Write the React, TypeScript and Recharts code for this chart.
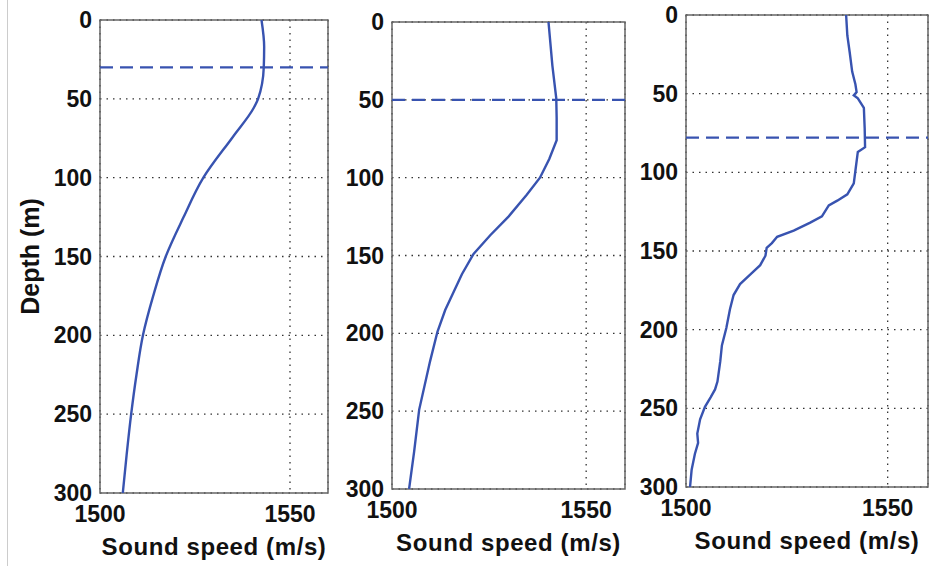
import { LineChart, Line, XAxis, YAxis, CartesianGrid, ReferenceLine, ReferenceArea } from 'recharts';

// sound speed profiles, depth (m) vs speed (m/s)
const depth1 = [0, 17, 30, 50, 56, 74, 100, 125, 150, 175, 200, 225, 250, 276, 300];
const speed1 = [1542.5, 1543.2, 1543.1, 1541.6, 1540.4, 1535, 1527.2, 1522, 1517.3, 1514, 1511.3, 1509.6, 1508.2, 1507, 1506];

const depth2 = [0, 28, 49, 62, 76, 88, 100, 111, 125, 137, 149, 162, 185, 199, 218, 249, 276, 300];
const speed2 = [1540.3, 1541.3, 1542.3, 1542.4, 1542.4, 1540.5, 1538.1, 1534.7, 1530, 1525.3, 1521, 1518, 1513.7, 1511.7, 1509.8, 1507, 1505.7, 1504.4];

const depth3 = [0, 13, 24, 36, 44, 49, 51, 53, 59, 72, 84, 87, 99, 107, 114, 118, 121, 128, 132, 137, 141, 145, 148, 153, 159, 164, 171, 178, 187, 199, 210, 220, 233, 238, 243, 249, 257, 266, 272, 279, 289, 300];
const speed3 = [1539.7, 1540, 1540.6, 1541.2, 1542, 1542.3, 1541.6, 1542.6, 1544.1, 1544.3, 1544.4, 1542.6, 1542, 1541.6, 1540, 1537.5, 1535.4, 1533.7, 1530.8, 1526.7, 1522.6, 1521.3, 1520, 1519.7, 1518.4, 1516.3, 1513.4, 1511.8, 1510.9, 1510, 1508.9, 1508.5, 1507.8, 1507.2, 1506.1, 1504.7, 1503.5, 1502.8, 1503, 1502.2, 1501.4, 1501];

const mixedLayer = [30, 50, 78];

const depthTicks = [0, 50, 100, 150, 200, 250, 300];
const speedTicks = [1500, 1550];

const blue = '#3853b0';
const font = { fontFamily: 'Liberation Sans, Arial, sans-serif', fontWeight: 700, fill: '#111' };

const panels = [
  { depth: depth1, speed: speed1, mld: mixedLayer[0], curve: 'monotone', left: 100, top: 20, w: 228, h: 473, yw: 100, showY: true },
  { depth: depth2, speed: speed2, mld: mixedLayer[1], curve: 'linear', left: 392, top: 22, w: 233, h: 467, yw: 80, showY: false },
  { depth: depth3, speed: speed3, mld: mixedLayer[2], curve: 'linear', left: 686, top: 15, w: 242, h: 472, yw: 80, showY: false },
];

const mt = 15;
const xh = 72;

function Panel({ p }: { p: (typeof panels)[number] }) {
  const data = p.depth.map((d, i) => ({ depth: d, speed: p.speed[i] }));
  return (
    <div style={{ position: 'absolute', left: p.left - p.yw, top: p.top - mt }}>
      <LineChart
        layout="vertical"
        width={p.yw + p.w + 8}
        height={mt + p.h + xh}
        data={data}
        margin={{ top: mt, right: 8, left: 0, bottom: 0 }}
      >
        <CartesianGrid stroke="#333" strokeWidth={1.3} strokeDasharray="1.5 5" />
        <XAxis
          type="number"
          dataKey="speed"
          domain={[1500, 1560]}
          ticks={speedTicks}
          interval={0}
          allowDataOverflow
          axisLine={false}
          tickLine={false}
          tickSize={0}
          tickMargin={13}
          height={xh}
          tick={{ ...font, fontSize: 23 }}
          label={{ value: 'Sound speed (m/s)', position: 'insideBottom', offset: 10, style: { ...font, fontSize: 24, letterSpacing: 0.6 } }}
        />
        <YAxis
          type="number"
          dataKey="depth"
          domain={[0, 300]}
          ticks={depthTicks}
          interval={0}
          allowDataOverflow
          axisLine={false}
          tickLine={false}
          tickSize={0}
          tickMargin={8}
          width={p.yw}
          tick={{ ...font, fontSize: 23 }}
          label={
            p.showY
              ? { value: 'Depth (m)', angle: -90, position: 'insideLeft', offset: 30, style: { ...font, fontSize: 25, textAnchor: 'middle' } }
              : undefined
          }
        />
        <ReferenceLine y={p.mld} stroke={blue} strokeWidth={2.2} strokeDasharray="13 7" />
        <Line type={p.curve as any} dataKey="speed" stroke={blue} strokeWidth={2.4} dot={false} isAnimationActive={false} />
        <ReferenceArea x1={1500} x2={1560} y1={0} y2={300} fill="none" stroke="#666" strokeWidth={1.5} />
      </LineChart>
    </div>
  );
}

export default function App() {
  return (
    <div style={{ position: 'absolute', left: 0, top: 0, width: 935, height: 566, background: '#fff' }}>
      <div style={{ position: 'absolute', left: 7, top: 0, width: 1, height: 566, background: '#ccc' }} />
      {panels.map((p, i) => (
        <Panel key={i} p={p} />
      ))}
    </div>
  );
}
